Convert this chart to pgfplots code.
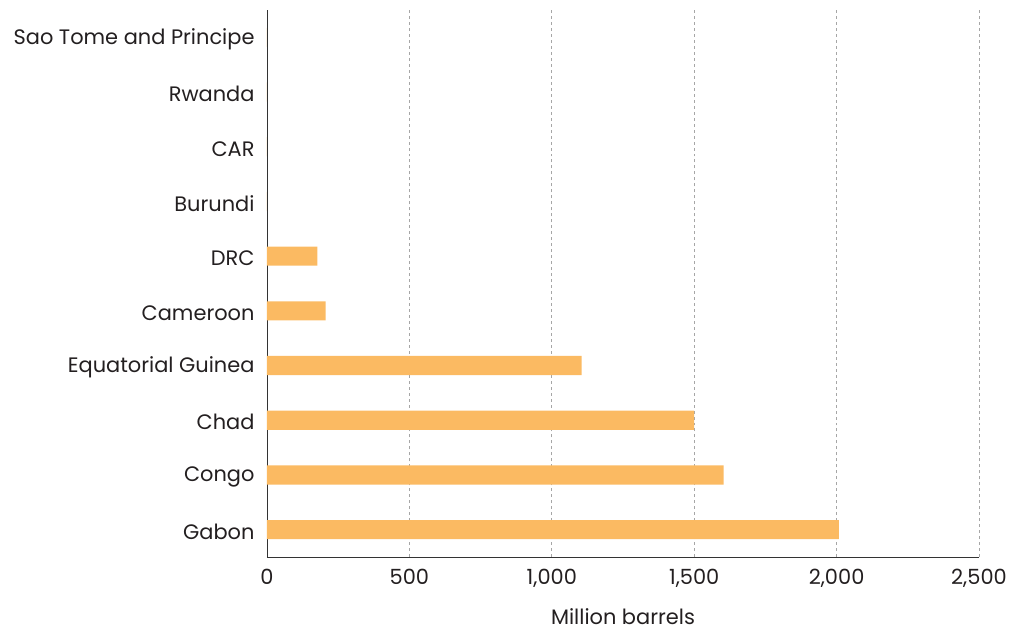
\documentclass[border=0pt]{standalone}
\usepackage{pgfplots}
\pgfplotsset{compat=1.18}
\usepackage{fontspec}
\setmainfont{Poppins}
\definecolor{barorange}{HTML}{FBBA62}
\definecolor{txt}{HTML}{231F20}
\begin{document}
\begin{tikzpicture}
\begin{axis}[
    at={(0,0)}, anchor=south west,
    scale only axis,
    width=712bp, height=547bp,
    xbar,
    bar width=0.35,
    xmin=0, xmax=2500,
    ymin=-0.5, ymax=9.5,
    axis x line*=bottom,
    axis y line*=left,
    axis line style={black!80, line width=0.8bp},
    xtick={0,500,...,2500},
    ytick={0,...,9},
    yticklabels={Gabon,Congo,Chad,Equatorial Guinea,Cameroon,DRC,Burundi,CAR,Rwanda,Sao Tome and Principe},
    major tick length=0pt,
    xmajorgrids,
    grid style={gray!70, dashed, line width=0.6bp},
    /pgf/number format/1000 sep={,},
    /pgf/number format/assume math mode=true,
    tick label style={font=\fontsize{21}{24}\selectfont, text=txt},
    xticklabel style={yshift=-9bp},
    yticklabel style={xshift=-9bp, yshift=-2bp},
    xlabel={Million barrels},
    xlabel style={font=\fontsize{21}{24}\selectfont, text=txt, yshift=-14bp},
]
\addplot[fill=barorange, draw=none] coordinates {
    (2008,0) (1603,1) (1500,2) (1105,3) (206,4) (177,5)
    (0,6) (0,7) (0,8) (0,9)
};
\end{axis}
\pgfresetboundingbox
\path (-267bp,-73bp) rectangle (745bp,557bp);
\end{tikzpicture}
\end{document}
